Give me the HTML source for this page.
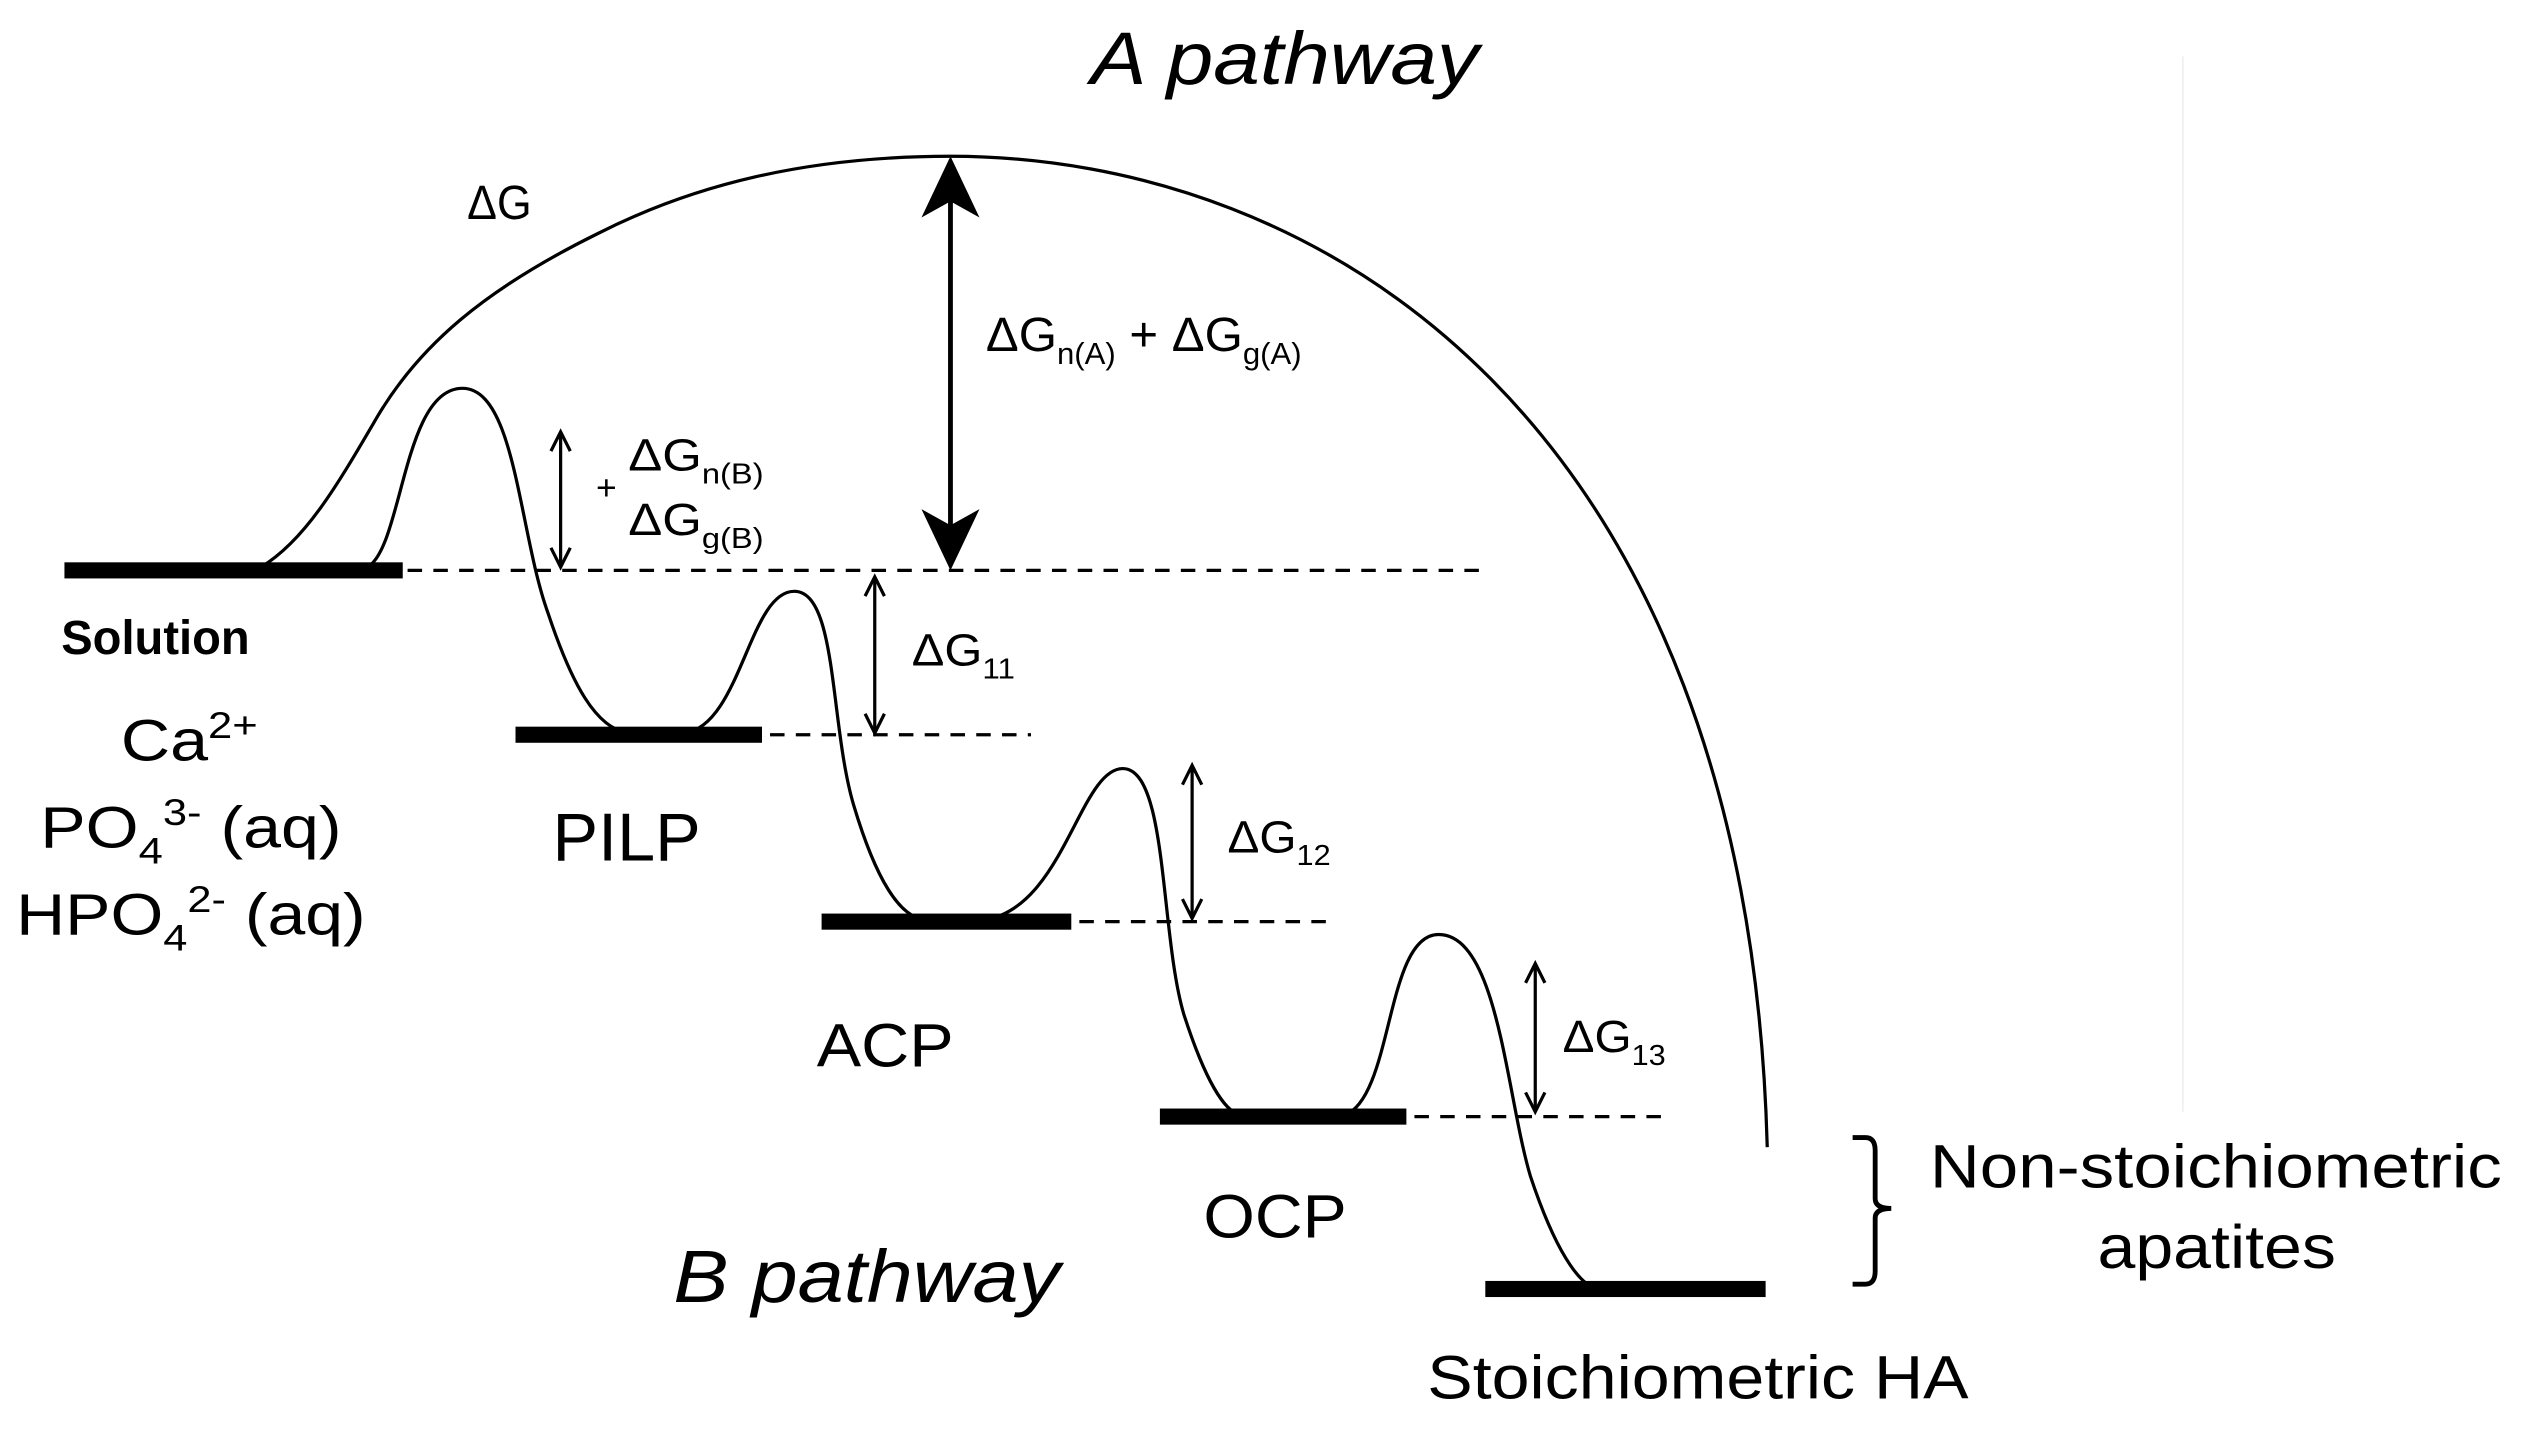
<!DOCTYPE html>
<html><head><meta charset="utf-8"><style>
html,body{margin:0;padding:0;background:#fff;}
svg{display:block;}
text{font-family:"Liberation Sans",sans-serif;fill:#000;}
</style></head><body>
<svg width="2526" height="1434" viewBox="0 0 1568 890" preserveAspectRatio="none" xmlns="http://www.w3.org/2000/svg">
<line x1="1355" y1="35" x2="1355" y2="690" stroke="#eee" stroke-width="1"/>
<text x="677" y="52" font-size="46" font-style="italic" textLength="241" lengthAdjust="spacingAndGlyphs">A pathway</text>
<path d="M162,352 C190,335 210,300 234,259 C260,215 300,180 371,145 C430,115 500,97 590,97 C820,97 1085,260 1097,712" fill="none" stroke="#000" stroke-width="2"/>
<text x="290" y="136" font-size="30" fill="#222" textLength="40" lengthAdjust="spacingAndGlyphs">ΔG</text>
<line x1="590" y1="120" x2="590" y2="330" stroke="#000" stroke-width="3"/>
<polygon points="590,97 572,135 590,125 608,135" fill="#000"/>
<polygon points="590,354 572,316 590,326 608,316" fill="#000"/>
<text x="612" y="218" font-size="30" fill="#222" textLength="196" lengthAdjust="spacingAndGlyphs">ΔG<tspan font-size="19" dy="8">n(A)</tspan><tspan dy="-8"> + ΔG</tspan><tspan font-size="19" dy="8">g(A)</tspan></text>
<g fill="#000">
<rect x="40" y="349" width="210" height="10"/>
<rect x="320" y="451" width="153" height="10"/>
<rect x="510" y="567" width="155" height="10"/>
<rect x="720" y="688" width="153" height="10"/>
<rect x="922" y="795" width="174" height="10"/>
</g>
<g stroke="#000" stroke-width="2" stroke-dasharray="9,7">
<line x1="253" y1="354" x2="918" y2="354"/>
<line x1="478" y1="456" x2="640" y2="456"/>
<line x1="670" y1="572" x2="830" y2="572"/>
<line x1="878" y1="693" x2="1035" y2="693"/>
</g>
<path d="M228,352 C250,340 250,241 287,241 C320,241 322,330 340,380 C355,425 370,452 390,455 L425,455 C460,450 465,367 493,367 C520,367 515,450 530,500 C545,550 560,570 575,571 L610,571 C660,565 670,477 697,477 C725,477 720,580 735,630 C748,670 760,690 770,692 L835,692 C865,680 860,580 893,580 C930,580 935,680 950,730 C965,775 980,798 992,800" fill="none" stroke="#000" stroke-width="2"/>
<g stroke="#000" stroke-width="2" fill="none">
<line x1="348" y1="270" x2="348" y2="350"/><polyline points="342,280 348,268 354,280"/><polyline points="342,340 348,352 354,340"/>
<line x1="543" y1="360" x2="543" y2="453"/><polyline points="537,370 543,358 549,370"/><polyline points="537,443 543,455 549,443"/>
<line x1="740" y1="477" x2="740" y2="568"/><polyline points="734,487 740,475 746,487"/><polyline points="734,558 740,570 746,558"/>
<line x1="953" y1="600" x2="953" y2="688"/><polyline points="947,610 953,598 959,610"/><polyline points="947,678 953,690 959,678"/>
</g>
<text x="370" y="310" font-size="22" fill="#222">+</text>
<text x="390" y="292" font-size="28" fill="#222" textLength="84" lengthAdjust="spacingAndGlyphs">ΔG<tspan font-size="18" dy="8">n(B)</tspan></text>
<text x="390" y="332" font-size="28" fill="#222" textLength="84" lengthAdjust="spacingAndGlyphs">ΔG<tspan font-size="18" dy="8">g(B)</tspan></text>
<text x="566" y="413" font-size="28" fill="#222" textLength="64" lengthAdjust="spacingAndGlyphs">ΔG<tspan font-size="18" dy="8">11</tspan></text>
<text x="762" y="529" font-size="28" fill="#222" textLength="64" lengthAdjust="spacingAndGlyphs">ΔG<tspan font-size="18" dy="8">12</tspan></text>
<text x="970" y="653" font-size="28" fill="#222" textLength="64" lengthAdjust="spacingAndGlyphs">ΔG<tspan font-size="18" dy="8">13</tspan></text>
<text x="38" y="406" font-size="30" font-weight="bold" fill="#444" textLength="117" lengthAdjust="spacingAndGlyphs">Solution</text>
<text x="75" y="472" font-size="36" textLength="85" lengthAdjust="spacingAndGlyphs">Ca<tspan font-size="23" dy="-14">2+</tspan></text>
<text x="25" y="526" font-size="36" textLength="187" lengthAdjust="spacingAndGlyphs">PO<tspan font-size="23" dy="10">4</tspan><tspan font-size="23" dy="-24">3-</tspan><tspan dy="14"> (aq)</tspan></text>
<text x="10" y="580" font-size="36" textLength="217" lengthAdjust="spacingAndGlyphs">HPO<tspan font-size="23" dy="10">4</tspan><tspan font-size="23" dy="-24">2-</tspan><tspan dy="14"> (aq)</tspan></text>
<text x="343" y="534" font-size="42" textLength="92" lengthAdjust="spacingAndGlyphs">PILP</text>
<text x="507" y="662" font-size="38" textLength="85" lengthAdjust="spacingAndGlyphs">ACP</text>
<text x="747" y="768" font-size="38" textLength="89" lengthAdjust="spacingAndGlyphs">OCP</text>
<text x="418" y="808" font-size="46" font-style="italic" textLength="240" lengthAdjust="spacingAndGlyphs">B pathway</text>
<text x="886" y="868" font-size="38" textLength="336" lengthAdjust="spacingAndGlyphs">Stoichiometric HA</text>
<path d="M1150,706 L1158,706 Q1164,706 1164,714 L1164,744 Q1164,750 1174,750 Q1164,750 1164,756 L1164,789 Q1164,797 1158,797 L1150,797" fill="none" stroke="#000" stroke-width="3"/>
<text x="1198" y="737" font-size="38" textLength="355" lengthAdjust="spacingAndGlyphs">Non-stoichiometric</text>
<text x="1302" y="787" font-size="38" textLength="148" lengthAdjust="spacingAndGlyphs">apatites</text>
</svg>
</body></html>
